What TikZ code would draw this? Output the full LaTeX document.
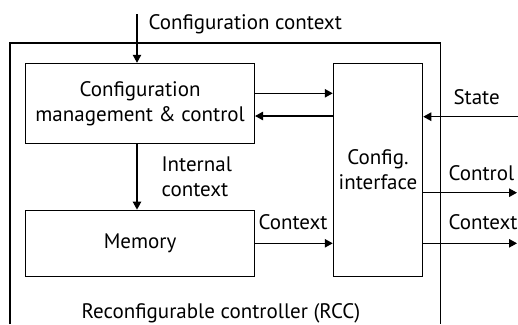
\documentclass[tikz,border=0pt]{standalone}
\usepackage{fontspec}
\setmainfont{PT Sans}
\usetikzlibrary{arrows.meta}
\begin{document}
\begin{tikzpicture}[x=1pt,y=-1pt,
  line width=1.1pt,
  every node/.style={font=\fontsize{21}{25}\selectfont},
  blk/.style={draw, inner sep=0pt, align=center},
  arr/.style={-{Triangle[length=8pt,width=8.5pt]}},
  lbl/.style={inner sep=0pt}]
\useasboundingbox (0,0) rectangle (518,324);

% outer controller frame (open at the bottom)
\coordinate (fbl) at (10,324);
\coordinate (ftl) at (10,43);
\coordinate (ftr) at (440.7,43);
\coordinate (fbr) at (440.7,324);
\draw (fbl) -- (ftl) -- (ftr) -- (fbr);

% functional blocks
\node[blk, minimum width=228.8pt, minimum height=80pt] (cmc) at (140.1,103.3)
  {Configuration\\management \& control};
\node[blk, minimum width=228.8pt, minimum height=66.7pt] (mem) at (140.1,243.5) {Memory};
\node[blk, minimum width=89.4pt, minimum height=213.4pt] (ci) at (378,170) {};
\node[lbl, align=center] (citxt) at (378,170) {Config.\\interface};

% incoming configuration context
\coordinate (cin) at (137,14);
\draw[arr] (cin) -- (cin |- cmc.north);
\node[lbl, anchor=base west] (cctx) at (148,29) {Configuration context};

% internal context to memory (base anchor sits on the last line)
\draw[arr] (cin |- cmc.south) -- (cin |- mem.north);
\node[lbl, anchor=base west, align=left] (ictx) at (161,196) {Internal\\context};

% exchanges between management and interface
\draw[arr] (cmc.east |- 0,93.3) -- (ci.west |- 0,93.3);
\draw[arr] (ci.west |- 0,116) -- (cmc.east |- 0,116);

% memory context to interface
\draw[arr] (mem.east |- 0,243.3) -- (ci.west |- 0,243.3);
\node[lbl, anchor=base west] (mctx) at (258,229.3) {Context};

% external state / control / context
\coordinate (sin) at (518,116.7);
\draw[arr] (sin) -- (ci.east |- sin);
\node[lbl, anchor=base west] (stl) at (453,104) {State};
\coordinate (cout) at (517,192.7);
\draw[arr] (ci.east |- cout) -- (cout);
\node[lbl, anchor=base west] (ctl) at (448,180.7) {Control};
\coordinate (xout) at (517,243.3);
\draw[arr] (ci.east |- xout) -- (xout);
\node[lbl, anchor=base west] (xtl) at (448,229) {Context};

\node[lbl, anchor=base] (rcc) at (221,318) {Reconfigurable controller (RCC)};
\end{tikzpicture}
\end{document}
